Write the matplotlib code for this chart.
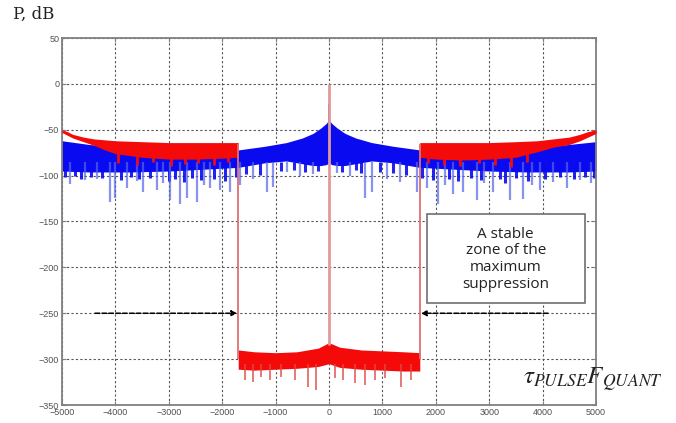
import matplotlib
matplotlib.use('Agg')
import matplotlib.pyplot as plt
from matplotlib.patches import Rectangle

# blue spectrum: upper edge and solid lower edge (dB)
blue_x = [-5000, -4500, -3700, -3000, -1700, -1200, -800, -500, -300, -150, -50, 0,
          50, 150, 300, 500, 800, 1200, 1700, 3000, 3700, 4500, 5000]
blue_top = [-62, -66, -70, -71, -72, -68, -64, -59, -54, -48, -43, -39,
            -43, -48, -54, -59, -64, -68, -72, -71, -70, -66, -63]
blue_bot = [-95, -96, -96, -95, -91, -86, -84, -87, -89, -89, -88, -86,
            -88, -89, -89, -87, -84, -86, -91, -95, -96, -96, -95]
blue_peak = -22

# deep blue notches (x, dB)
blue_dip_x = [-4850, -4570, -4350, -4100, -4010, -3780, -3600, -3480, -3220, -3100, -2980,
              -2790, -2660, -2470, -2350, -2230, -2040, -1850, -1660, -1420, -1160, -1050,
              -785, -540, -300, 150, 390, 675, 800, 1090, 1330, 1650, 1840, 2040, 2180,
              2320, 2510, 2770, 2900, 3070, 3390, 3640, 3800, 3950, 4200, 4460, 4700, 4900]
blue_dip_db = [-109, -105, -104, -129, -124, -114, -106, -118, -116, -108, -127,
               -131, -124, -129, -110, -113, -116, -118, -110, -104, -118, -112,
               -96, -100, -98, -97, -100, -124, -118, -104, -107, -118, -113, -131, -110,
               -120, -118, -127, -108, -118, -127, -125, -110, -116, -107, -113, -105, -108]

# shallower blue notches (x, dB)
blue_notch_x = [-4950, -4750, -4650, -4450, -4250, -3900, -3700, -3550, -3350, -3000, -2880,
                -2720, -2560, -2400, -2150, -1950, -1750, -1550, -1300, -900, -650, -450,
                -200, 250, 500, 600, 950, 1200, 1450, 1750, 1950, 2250, 2420, 2650, 2850,
                3200, 3300, 3500, 3720, 4050, 4320, 4580, 4800, 4960]
blue_notch_db = [-102, -100, -104, -101, -103, -105, -102, -104, -103, -106, -104,
                 -107, -103, -105, -104, -106, -101, -98, -99, -95, -94, -96,
                 -95, -96, -94, -97, -96, -97, -99, -103, -105, -104, -106, -103, -105,
                 -104, -108, -103, -106, -104, -102, -104, -101, -103]

# red spectrum, outer parts
red_out_x = [-5000, -4900, -4800, -4600, -4400, -4200, -4000, -3500, -3000, -2500, -2000, -1700]
red_out_top = [-50, -52, -55, -58, -60, -61, -62, -63, -64, -64, -64, -64]
red_out_bot = [-53, -56, -59, -63, -67, -72, -76, -80, -82, -82, -81, -80]
red_right_x = [1700, 2000, 2500, 3000, 3500, 3900, 4200, 4500, 4700, 4850, 5000]
red_right_top = [-64, -64, -64, -64, -63, -62, -60, -58, -55, -52, -50]
red_right_bot = [-80, -82, -83, -82, -80, -74, -69, -66, -62, -58, -54]
red_out_dip_x = [-3950, -3600, -3300, -2950, -2700, -2450, -2150, -1900,
                 1850, 2150, 2450, 2800, 3100, 3400, 3700]
red_out_dip_db = [-86, -88, -85, -90, -87, -86, -88, -85,
                  -86, -88, -90, -86, -88, -91, -85]

# red spectrum, suppression zone
red_low_x = [-1700, -1400, -1000, -600, -200, 0, 200, 600, 1000, 1400, 1700]
red_low_top = [-290, -292, -293, -292, -288, -282, -287, -290, -291, -292, -293]
red_low_bot = [-311, -312, -311, -310, -308, -305, -309, -311, -312, -313, -313]
red_low_dip_x = [-1570, -1420, -1270, -1100, -900, -640, -390, -240, 110, 260, 490, 680,
                 860, 1050, 1350, 1540]
red_low_dip_db = [-323, -325, -319, -323, -319, -323, -330, -334, -321, -323, -326, -328,
                  -323, -321, -330, -323]

zone_edge = 1700
x_ticks = list(range(-5000, 5001, 1000))
y_ticks = list(range(50, -351, -50))

fig = plt.figure(figsize=(6.76, 4.23), dpi=100)
ax = fig.add_axes([62 / 676, 18 / 423, 534 / 676, 367 / 423])

BLUE = '#0a0af0'
RED = '#f50a0a'

ax.fill_between(blue_x, blue_bot, blue_top, color=BLUE, lw=0, zorder=2)
ax.vlines(blue_notch_x, -85, blue_notch_db, color=BLUE, lw=2.2, alpha=0.9, zorder=2)
ax.vlines(blue_dip_x, -85, blue_dip_db, color='#5565e8', lw=1.6, alpha=0.7, zorder=2)
ax.vlines([0], -40, blue_peak, color=BLUE, lw=1.2, zorder=2)

ax.fill_between(red_out_x, red_out_bot, red_out_top, color=RED, lw=0, zorder=3)
ax.fill_between(red_right_x, red_right_bot, red_right_top, color=RED, lw=0, zorder=3)
ax.vlines(red_out_dip_x, -75, red_out_dip_db, color=RED, lw=2, zorder=3)
ax.fill_between(red_low_x, red_low_bot, red_low_top, color=RED, lw=0, zorder=3)
ax.vlines(red_low_dip_x, -305, red_low_dip_db, color='#e04848', lw=1.3, alpha=0.8, zorder=3)

ax.vlines([-zone_edge, zone_edge], -300, -66, color='#e07070', lw=1.3, zorder=4)
ax.vlines([0], -285, 0, color='#e09a9a', lw=2, zorder=4)

# arrows pointing to the zone edges
for x0, x1 in [(-4380, -1720), (4100, 1720)]:
    ax.annotate('', xy=(x1, -250), xytext=(x0, -250),
                arrowprops=dict(arrowstyle='-|>', color='black', lw=1.1,
                                linestyle=(0, (3, 1.5)), mutation_scale=8,
                                shrinkA=0, shrinkB=0), zorder=5)

ax.add_patch(Rectangle((1835, -239), 4790 - 1835, 97, facecolor='white',
                       edgecolor='#707070', lw=1.2, zorder=6))
ax.text(3310, -191, 'A stable\nzone of the\nmaximum\nsuppression', ha='center',
        va='center', fontsize=11, family='Open Sans', color='#222222',
        linespacing=1.15, zorder=7)

ax.set_xlim(-5000, 5000)
ax.set_ylim(-350, 50)
ax.set_xticks(x_ticks)
ax.set_yticks(y_ticks)
ax.grid(True, color='#555555', linestyle=(0, (2, 2)), lw=0.8, zorder=0)
ax.set_axisbelow(True)
ax.tick_params(direction='in', length=3, width=0.8, color='#808080',
               labelsize=6.5, labelcolor='#505050', pad=2,
               top=True, right=True)
for lab in ax.get_xticklabels() + ax.get_yticklabels():
    lab.set_family('Liberation Sans')
for sp in ax.spines.values():
    sp.set_color('#808080')
    sp.set_linewidth(1.3)

fig.text(13 / 676, 1 - 14 / 423, 'P, dB', family='DejaVu Serif', fontsize=12,
         va='center', ha='left', color='#222222')
plt.rcParams['mathtext.fontset'] = 'stix'
fig.text(593 / 676, 1 - 380 / 423, r'$\tau_{PULSE}F_{QUANT}$', fontsize=18,
         ha='center', va='center', color='#222222')

fig.savefig('out.png', dpi=100)
